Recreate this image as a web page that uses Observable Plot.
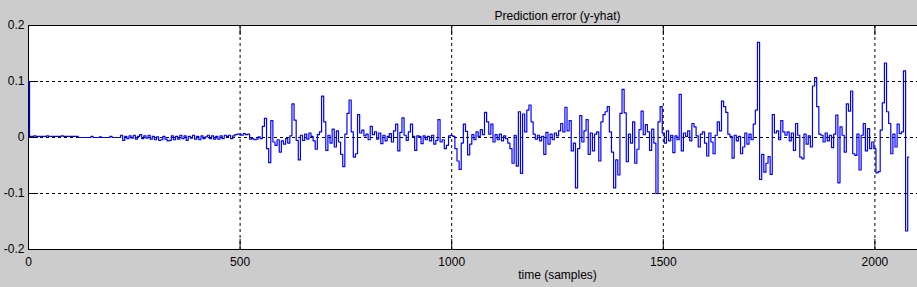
<!DOCTYPE html>
<html><head><meta charset="utf-8">
<script src="https://cdn.jsdelivr.net/npm/d3@7"></script>
<script src="https://cdn.jsdelivr.net/npm/@observablehq/plot@0.6"></script>
<style>
html,body{margin:0;padding:0;background:#cccccc;overflow:hidden;}
#wrap{width:917px;height:287px;overflow:hidden;position:relative;}
#wrap svg{max-width:none !important;}
</style></head><body><div id="wrap"></div>
<script>
const title = "Prediction error (y-yhat)";
const xLabel = "time (samples)";
const xTickValues = [0, 500, 1000, 1500, 2000];
const xTickLabels = ["0", "500", "1000", "1500", "2000"];
const yTickValues = [-0.2, -0.1, 0, 0.1, 0.2];
const yTickLabels = ["-0.2", "-0.1", "0", "0.1", "0.2"];
const sampleStep = 5;

// samples 0..495
const errA = [0.1,
  0.002,0.002,0.003,0.002,0.002, 0.002,0.002,0.002,0.003,0.002, 0.002,0.002,0.002,0.002,0.002, 0.003,0.002,0.002,0.002,0.002, 0.002,0.002,0.002,
  0,0,0,0,0, 0,0.002,0,0,0, 0.001,0,0,0,0, 0.002,0,0,0,0,
  0.004,-0.005,0.002,-0.002,0.003, -0.001,0.004,-0.003,0.002,0.005, -0.002,0.003,-0.001,0.004,-0.003, 0.002,-0.004,0.001,-0.005,-0.004,
  0.002,-0.003,-0.006,-0.005,0.003, -0.004,0.002,-0.003,0.004,-0.002, 0.003,-0.005,0.002,-0.001,0.004, -0.003,0.002,-0.004,0.003,-0.002,
  0.001,0.004,-0.002,0.003,-0.003, 0.002,-0.003,0.003,-0.002,0.004, 0.002,0.004,-0.002,0.003,0.005, 0.006];
// samples 500..995
const errB = [0.006,0.004,0.007,0.005,0.006, -0.003,-0.002,-0.004,-0.003,0.001,
  -0.002,0.02,0.034,-0.02,-0.045, 0.03,-0.008,-0.014,-0.004,-0.026,
  -0.006,-0.012,-0.002,-0.01,0.003, 0.06,0.031,-0.005,-0.04,0.004,
  -0.005,0.006,-0.003,0.008,0.002, -0.006,-0.021,0.005,0.01,0.074,
  0.028,-0.023,0.004,-0.01,0.015, -0.017,0.012,-0.008,-0.03,-0.052,
  0.006,0.043,0.067,0.01,-0.035, -0.029,0.041,0.008,0.013,0.003,
  0.006,-0.004,0.02,0.005,0.01, -0.003,0.008,-0.011,0.004,-0.006,
  0.002,0.007,-0.008,0.012,0.024, -0.024,0.009,0.035,0.004,-0.005,
  0.01,0.024,0.002,-0.023,0.003, 0.002,-0.011,0.003,-0.004,0.002,
  -0.006,0.004,-0.012,-0.005,0.032, -0.008,-0.004,-0.02,-0.014,0.003];
// samples 1000..1495
const errC = [0.004,0.002,-0.02,-0.042,-0.057, -0.01,0.024,0.011,-0.031,-0.012,
  0.005,-0.004,0.01,0.002,0.014, 0.005,0.045,0.028,0.006,0.024,
  -0.008,0.005,-0.004,0.006,-0.006, 0.003,-0.002,-0.01,-0.02,-0.046,
  0.004,-0.051,0.046,-0.064,0.042, 0.01,0.049,0.058,0.028,0.006,
  -0.003,0.004,-0.006,0.002,-0.03, 0.009,-0.012,0.006,-0.004,0.008,
  0.003,0.012,0.025,0.01,0.054, 0.012,0.03,-0.024,-0.01,-0.09,
  -0.02,0.039,-0.008,0.012,0.032, -0.03,0.008,-0.024,0.006,0.01,
  -0.042,0.028,0.041,0.046,0.055, 0.01,-0.026,-0.09,-0.04,-0.067,
  0.043,0.086,0.044,-0.043,0.006, -0.01,0.028,-0.046,-0.021,0.014,
  0.047,0.005,0.023,0.01,-0.023, 0.015,-0.01,-0.1,0.028,0.055];
// samples 1500..1995
const errD = [0.008,-0.01,0.012,-0.006,0.004, -0.027,0.003,-0.004,0.077,-0.024,
  0.008,0.002,0.012,-0.006,0.025, 0.019,0.003,-0.017,0.006,0.01,
  -0.01,-0.033,0.008,-0.008,-0.029, 0.004,0.028,0.012,0.065,0.055,
  0.045,0.006,0.002,-0.037,0.004, -0.006,0.002,-0.029,-0.017,0.008,
  -0.012,0.006,-0.004,0.024,0.049, 0.17,-0.075,-0.03,-0.062,-0.046,
  -0.034,-0.066,0.041,0.008,0.012, -0.004,0.03,0.01,0.004,0.01,
  -0.006,0.008,-0.023,0.025,0.004, -0.035,-0.038,0.006,-0.012,0.003,
  -0.017,0.092,0.107,0.055,0.006, 0.004,-0.008,0.008,-0.006,0.004,
  -0.018,0.006,0.04,-0.081,0.019, 0.004,-0.026,0.06,0.047,0.083,
  -0.029,-0.032,0.006,-0.058,0.004, 0.025,-0.024,0.016,-0.02,-0.008];
// samples 2000..2080
const errE = [-0.02,-0.063,-0.061,0.013,0.062, 0.133,0.046,0.025,-0.029,0.006,
  -0.017,0.024,0.007,0.01,0.119, -0.167,-0.035];

const blocks = [{start: 0, values: errA}, {start: 500, values: errB}, {start: 1000, values: errC}, {start: 1500, values: errD}, {start: 2000, values: errE}];
const data = [];
for (const b of blocks) b.values.forEach((v, i) => data.push({sample: b.start + i * sampleStep, error: v}));

const W = 1090, H = 287, mL = 28, mR = 4, mT = 25, mB = 38;
const frameW = W - mL - mR, frameH = H - mT - mB, tickLen = 10;

const chart = Plot.plot({
  width: W, height: H,
  marginLeft: mL, marginRight: mR, marginTop: mT, marginBottom: mB,
  style: {background: "#cccccc", fontFamily: "'Liberation Sans', Arial, sans-serif", fontSize: "12px", color: "black", overflow: "visible", maxWidth: "none"},
  x: {domain: [0, 2500]},
  y: {domain: [-0.2, 0.2]},
  marks: [
    Plot.frame({fill: "white", stroke: null}),
    Plot.gridX(xTickValues, {stroke: "black", strokeOpacity: 1, strokeDasharray: "3,3"}),
    Plot.gridY(yTickValues, {stroke: "black", strokeOpacity: 1, strokeDasharray: "3,3"}),
    Plot.frame({stroke: "black", fill: null}),
    Plot.tickX(xTickValues, {x: d => d, stroke: "black", insetTop: frameH - tickLen}),
    Plot.tickX(xTickValues, {x: d => d, stroke: "black", insetBottom: frameH - tickLen}),
    Plot.tickY(yTickValues, {y: d => d, stroke: "black", insetRight: frameW - tickLen}),
    Plot.axisX(xTickValues, {tickSize: 0, tickPadding: 8, tickFormat: d => xTickLabels[xTickValues.indexOf(d)], label: null}),
    Plot.axisY(yTickValues, {tickSize: 0, tickPadding: 4, tickFormat: d => yTickLabels[yTickValues.indexOf(d)], label: null}),
    Plot.line(data, {x: "sample", y: "error", stroke: "#0000ff", strokeWidth: 1.2, curve: "step"}),
    Plot.text([title], {frameAnchor: "top", dy: -14, text: d => d, fontSize: 12}),
    Plot.text([xLabel], {frameAnchor: "bottom", dy: 29, text: d => d, fontSize: 12})
  ]
});
document.getElementById("wrap").appendChild(chart);
</script>
</body></html>
